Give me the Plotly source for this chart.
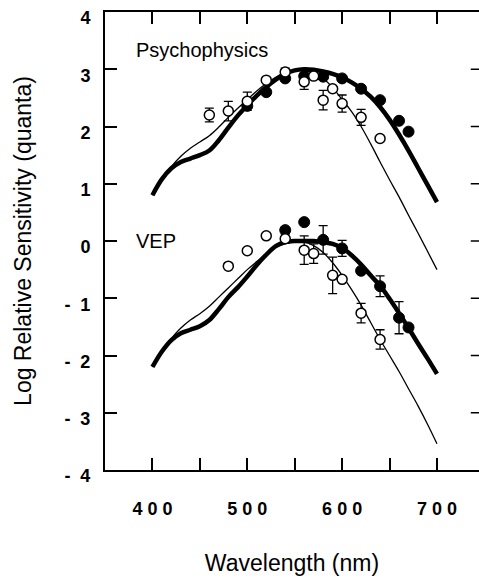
import plotly.graph_objects as go

# ---------------- data ----------------
wavelength = [400, 410, 420, 430, 440, 450, 460, 470, 480, 490, 500, 510, 520, 530, 540,
              550, 560, 570, 580, 590, 600, 610, 620, 630, 640, 650, 660, 670, 680, 690, 700]

psy_thick = [0.80, 1.08, 1.27, 1.38, 1.44, 1.50, 1.58, 1.76, 1.98, 2.19, 2.37, 2.54, 2.69, 2.82, 2.92,
             2.98, 3.00, 2.99, 2.96, 2.92, 2.86, 2.77, 2.66, 2.52, 2.34, 2.12, 1.86, 1.58, 1.28, 0.98, 0.68]
psy_thin = [0.80, 1.08, 1.30, 1.48, 1.62, 1.73, 1.84, 1.99, 2.16, 2.32, 2.47, 2.62, 2.75, 2.86, 2.94,
            2.98, 2.98, 2.93, 2.84, 2.68, 2.47, 2.26, 2.00, 1.70, 1.38, 1.07, 0.77, 0.45, 0.14, -0.18, -0.50]
vep_thick = [-2.20, -1.93, -1.73, -1.61, -1.55, -1.49, -1.38, -1.19, -0.98, -0.81, -0.62, -0.42, -0.24, -0.09, -0.02,
             0.00, 0.00, 0.00, -0.02, -0.05, -0.12, -0.25, -0.41, -0.60, -0.78, -1.01, -1.26, -1.52, -1.79, -2.05, -2.32]
vep_thin = [-2.20, -1.92, -1.70, -1.52, -1.38, -1.27, -1.14, -0.98, -0.82, -0.66, -0.50, -0.36, -0.22, -0.11, -0.04,
            -0.01, -0.02, -0.08, -0.20, -0.38, -0.60, -0.85, -1.12, -1.42, -1.72, -2.00, -2.28, -2.58, -2.88, -3.20, -3.54]

psy_open_x = [460, 480, 500, 520, 540, 560, 570, 580, 590, 600, 620, 640]
psy_open_y = [2.20, 2.27, 2.44, 2.81, 2.95, 2.78, 2.88, 2.46, 2.66, 2.40, 2.16, 1.79]
psy_open_err = [0.12, 0.17, 0.16, 0.0, 0.07, 0.13, 0.0, 0.17, 0.0, 0.15, 0.14, 0.0]

psy_fill_x = [500, 520, 540, 560, 580, 600, 620, 640, 660, 670]
psy_fill_y = [2.36, 2.60, 2.84, 2.88, 2.87, 2.84, 2.66, 2.46, 2.10, 1.91]

vep_open_x = [480, 500, 520, 540, 560, 570, 590, 600, 620, 640]
vep_open_y = [-0.44, -0.17, 0.09, 0.04, -0.16, -0.22, -0.60, -0.67, -1.26, -1.72]
vep_open_err = [0.0, 0.0, 0.0, 0.08, 0.25, 0.17, 0.32, 0.0, 0.17, 0.17]

vep_fill_x = [540, 560, 580, 600, 620, 640, 660, 670]
vep_fill_y = [0.19, 0.33, 0.02, -0.13, -0.52, -0.79, -1.34, -1.51]
vep_fill_err = [0.0, 0.0, 0.25, 0.14, 0.0, 0.18, 0.28, 0.0]

x_tickvals = [400, 450, 500, 550, 600, 650, 700]
x_ticktext = ["4 0 0", "", "5 0 0", "", "6 0 0", "", "7 0 0"]
y_tickvals = [4, 3, 2, 1, 0, -1, -2, -3, -4]
y_ticktext = ["4", "3", "2", "1", "0", "-\u00a0\u00a01", "-\u00a0\u00a02", "-\u00a0\u00a03", "-\u00a0\u00a04"]

FONT = "Liberation Sans, Arial, Helvetica, sans-serif"

fig = go.Figure()

for yv in (psy_thin, vep_thin):
    fig.add_trace(go.Scatter(x=wavelength, y=yv, mode="lines", line=dict(color="black", width=1.3, shape="spline"),
                             showlegend=False, hoverinfo="skip"))
for yv in (psy_thick, vep_thick):
    fig.add_trace(go.Scatter(x=wavelength, y=yv, mode="lines", line=dict(color="black", width=4.5, shape="spline"),
                             showlegend=False, hoverinfo="skip"))

err_style = dict(type="data", symmetric=True, color="black", thickness=1.3, width=4.5)

fig.add_trace(go.Scatter(x=psy_fill_x, y=psy_fill_y, mode="markers",
                         marker=dict(symbol="circle", size=11, color="black", line=dict(color="black", width=1)),
                         showlegend=False))
fig.add_trace(go.Scatter(x=vep_fill_x, y=vep_fill_y, mode="markers",
                         error_y=dict(array=vep_fill_err, **err_style),
                         marker=dict(symbol="circle", size=11, color="black", line=dict(color="black", width=1)),
                         showlegend=False))
fig.add_trace(go.Scatter(x=psy_open_x, y=psy_open_y, mode="markers",
                         error_y=dict(array=psy_open_err, **err_style),
                         marker=dict(symbol="circle", size=10, color="white", line=dict(color="black", width=1.5)),
                         showlegend=False))
fig.add_trace(go.Scatter(x=vep_open_x, y=vep_open_y, mode="markers",
                         error_y=dict(array=vep_open_err, **err_style),
                         marker=dict(symbol="circle", size=10, color="white", line=dict(color="black", width=1.5)),
                         showlegend=False))

fig.add_annotation(x=381, y=3.33, xref="x", yref="y", text="Psychophysics", showarrow=False,
                   xanchor="left", yanchor="middle", font=dict(family=FONT, size=20, color="black"))
fig.add_annotation(x=381, y=0.0, xref="x", yref="y", text="VEP", showarrow=False,
                   xanchor="left", yanchor="middle", font=dict(family=FONT, size=20, color="black"))

# inward tick marks of the (off-page) right-hand frame, one per y tick value
for tv in y_tickvals[1:-1]:
    fig.add_shape(type="line", xref="paper", yref="y", x0=0.978, x1=1.0, y0=tv, y1=tv,
                  line=dict(color="black", width=1.5), layer="above")

fig.update_layout(
    width=479, height=576, autosize=False,
    margin=dict(l=105, r=0, t=12, b=106, pad=0),
    paper_bgcolor="white", plot_bgcolor="white",
    font=dict(family=FONT, color="black"),
    xaxis=dict(range=[350, 744.3], tickvals=x_tickvals, ticktext=x_ticktext,
               ticks="inside", ticklen=12, tickwidth=1.5, tickcolor="black",
               showline=True, linewidth=2, linecolor="black", mirror="ticks",
               showgrid=False, zeroline=False,
               tickfont=dict(family=FONT, size=18, color="black", weight="bold"),
               ticklabelstandoff=21,
               title=dict(text="Wavelength (nm)", font=dict(family=FONT, size=23, color="black"), standoff=39)),
    yaxis=dict(range=[-4, 4], tickvals=y_tickvals, ticktext=y_ticktext,
               ticks="inside", ticklen=12, tickwidth=1.5, tickcolor="black",
               showline=True, linewidth=2, linecolor="black", mirror=False,
               showgrid=False, zeroline=False,
               tickfont=dict(family=FONT, size=18, color="black", weight="bold"),
               ticklabelstandoff=9, ticklabelshift=6,
               title=dict(text="Log Relative Sensitivity (quanta)", font=dict(family=FONT, size=23, color="black"),
                          standoff=26)),
)

fig.write_html("out.html")
